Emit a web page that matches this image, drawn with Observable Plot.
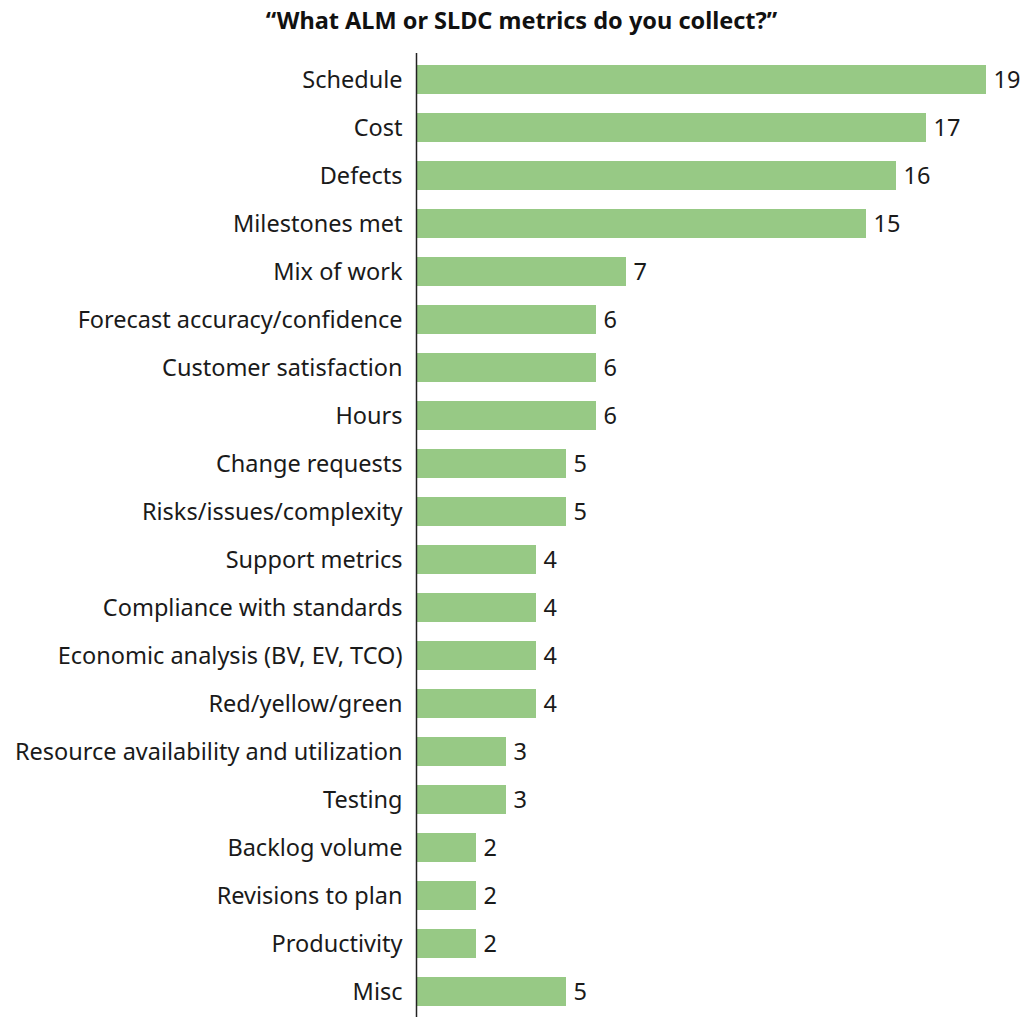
<!DOCTYPE html>
<html>
<head>
<meta charset="utf-8">
<script src="https://cdn.jsdelivr.net/npm/d3@7"></script>
<script src="https://cdn.jsdelivr.net/npm/@observablehq/plot@0.6"></script>
<style>
  html, body { margin: 0; padding: 0; background: #fff; }
  #title { font-family: "Noto Sans", sans-serif; font-weight: bold; font-size: 23.5px; color: #111;
           text-align: center; width: 1023px; padding-left: 20px; box-sizing: border-box; height: 40px; line-height: 40px; }
  #chart svg { display: block; }
</style>
</head>
<body>
<div id="title">“What ALM or SLDC metrics do you collect?”</div>
<div id="chart"></div>
<script>
const categories = [
  "Schedule", "Cost", "Defects", "Milestones met", "Mix of work",
  "Forecast accuracy/confidence", "Customer satisfaction", "Hours",
  "Change requests", "Risks/issues/complexity", "Support metrics",
  "Compliance with standards", "Economic analysis (BV, EV, TCO)",
  "Red/yellow/green", "Resource availability and utilization", "Testing",
  "Backlog volume", "Revisions to plan", "Productivity", "Misc"
];
const counts = [19, 17, 16, 15, 7, 6, 6, 6, 5, 5, 4, 4, 4, 4, 3, 3, 2, 2, 2, 5];

const data = categories.map((c, i) => ({category: c, count: counts[i]}));

const chart = Plot.plot({
  width: 1023,
  height: 977,
  marginTop: 13,
  marginBottom: 0,
  marginLeft: 416,
  marginRight: 37,
  style: {fontFamily: "Noto Sans, sans-serif", fontSize: "23.5px", color: "#1a1a1a"},
  x: {domain: [0, 19], axis: null},
  y: {domain: categories, paddingInner: 0.4, paddingOuter: 0.19, label: null, tickSize: 0, tickPadding: 14},
  marks: [
    Plot.barX(data, {x: "count", y: "category", fill: "#97c985"}),
    Plot.text(data, {x: "count", y: "category", text: d => String(d.count), textAnchor: "start", dx: 7, fill: "#1a1a1a", fontSize: 23.5}),
    Plot.ruleX([0], {stroke: "#222", strokeWidth: 1.5})
  ]
});
document.getElementById("chart").appendChild(chart);
</script>
</body>
</html>
